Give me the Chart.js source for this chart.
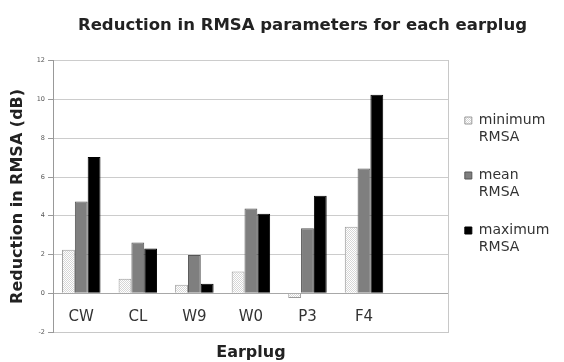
<!DOCTYPE html>
<html><head><meta charset="utf-8">
<script src="https://cdn.jsdelivr.net/npm/chart.js@4"></script>
<style>html,body{margin:0;padding:0;background:#fff}</style>
</head><body>
<canvas id="c" width="564" height="362"></canvas>
<script>
const categories = ['CW', 'CL', 'W9', 'W0', 'P3', 'F4', ''];
const minimumRMSA = [2.24, 0.75, 0.44, 1.12, -0.24, 3.43, null];
const meanRMSA = [4.74, 2.62, 1.97, 4.37, 3.35, 6.44, null];
const maximumRMSA = [7.04, 2.31, 0.49, 4.10, 5.03, 10.25, null];
const seriesNames = ['minimum RMSA', 'mean RMSA', 'maximum RMSA'];
const legendLines = [['minimum', 'RMSA', ''], ['mean', 'RMSA', ''], ['maximum', 'RMSA', '']];
const yMin = -2, yMax = 12, yStep = 2;
const chartTitle = 'Reduction in RMSA parameters for each earplug';
const yTitle = 'Reduction in RMSA (dB)';
const xTitle = 'Earplug';

Chart.defaults.font.family = "'DejaVu Sans', Verdana, sans-serif";

function stipple() {
  const p = document.createElement('canvas');
  p.width = 4; p.height = 4;
  const g = p.getContext('2d');
  g.fillStyle = '#ffffff'; g.fillRect(0, 0, 4, 4);
  g.fillStyle = '#d6d6d6';
  for (let y = 0; y < 4; y++) for (let x = 0; x < 4; x++) if ((x + y) % 2 === 0) g.fillRect(x, y, 1, 1);
  return g.createPattern(p, 'repeat');
}

const shiftTitle = {
  id: 'shiftTitle',
  afterLayout(chart) {
    const tb = chart.titleBlock;
    if (tb) { tb.right += 52; tb.width = tb.right - tb.left; }
  }
};

new Chart(document.getElementById('c'), {
  type: 'bar',
  data: {
    labels: categories,
    datasets: [
      { label: seriesNames[0], data: minimumRMSA, backgroundColor: stipple(), borderColor: '#9a9a9a', borderWidth: 1 },
      { label: seriesNames[1], data: meanRMSA, backgroundColor: '#7f7f7f', borderColor: '#555555', borderWidth: 1 },
      { label: seriesNames[2], data: maximumRMSA, backgroundColor: '#000000', borderColor: '#000000', borderWidth: 1 }
    ]
  },
  options: {
    responsive: false,
    animation: false,
    devicePixelRatio: 1,
    categoryPercentage: 0.68,
    barPercentage: 1.0,
    layout: { padding: { left: 0, right: 11, top: 0, bottom: 0 } },
    plugins: {
      tooltip: { enabled: false },
      title: {
        display: true, text: chartTitle, color: '#222',
        font: { size: 16.5, weight: 'bold' },
        padding: { top: 16, bottom: 25 }
      },
      legend: {
        position: 'right', align: 'center',
        title: { display: true, text: '', font: { size: 10, lineHeight: '10px' }, padding: { top: 8, bottom: 8 } },
        labels: {
          boxWidth: 7, boxHeight: 7, padding: 4, color: '#333',
          font: { size: 14, lineHeight: '17px' },
          generateLabels(chart) {
            const items = Chart.defaults.plugins.legend.labels.generateLabels(chart);
            items.forEach((it, i) => { it.text = legendLines[i]; });
            return items;
          }
        }
      }
    },
    scales: {
      x: {
        grid: { display: false },
        border: { display: true, color: '#c8c8c8' },
        ticks: { font: { size: 15 }, color: '#333', mirror: true, padding: 6, maxRotation: 0, autoSkip: false },
        title: { display: true, text: xTitle, color: '#222', font: { size: 16, weight: 'bold' }, padding: { top: 0, bottom: 0 } },
        afterFit(s) { s.height = 30; }
      },
      y: {
        min: yMin, max: yMax,
        ticks: { stepSize: yStep, font: { size: 6.5 }, color: '#555', padding: 3 },
        grid: {
          color: (ctx) => (ctx.tick && ctx.tick.value === 0) ? '#a8a8a8' : '#cccccc',
          tickColor: '#999', tickLength: 5
        },
        border: { color: '#999' },
        title: { display: true, text: yTitle, color: '#222', font: { size: 16, weight: 'bold' }, padding: { top: 8, bottom: 0 } },
        afterFit(s) { s.width = 53; }
      },
      y2: {
        type: 'linear', position: 'right', display: true,
        ticks: { display: false }, grid: { display: false },
        border: { display: true, color: '#c8c8c8' },
        afterFit(s) { s.width = 12; }
      }
    }
  },
  plugins: [shiftTitle]
});
</script>
</body></html>
